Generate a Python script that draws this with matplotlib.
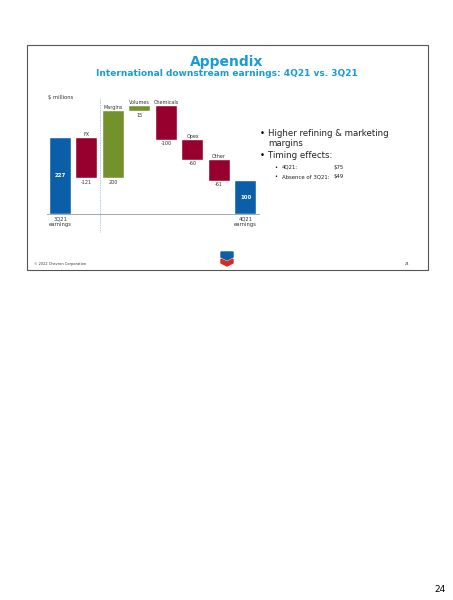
import matplotlib
matplotlib.use("Agg")
import matplotlib.pyplot as plt
from matplotlib.patches import Rectangle, Polygon

categories = ["3Q21\nearnings", "FX", "Margins", "Volumes", "Chemicals", "Opex", "Other", "4Q21\nearnings"]
values = [227, -121, 200, 15, -100, -60, -61, 100]
labels = ["227", "-121", "200", "15", "-100", "-60", "-61", "100"]

W, H = 453, 600
fig = plt.figure(figsize=(W/100, H/100), dpi=100)
def fx(x): return x / W
def fy(y): return 1 - y / H

# slide frame
fig.patches.append(Rectangle((fx(27), fy(270)), fx(401), fy(45) - fy(270),
                             transform=fig.transFigure, fill=False, ec="#555555", lw=0.8))
fig.text(fx(227), fy(62), "Appendix", color="#1a9bd7", fontsize=10, fontweight="bold", ha="center", va="center")
fig.text(fx(227), fy(74), "International downstream earnings: 4Q21 vs. 3Q21", color="#1a9bd7",
         fontsize=6.5, fontweight="bold", ha="center", va="center")
fig.text(fx(48), fy(97), "$ millions", fontsize=3.8, ha="left", va="center", color="#333333")

# chart
ax = fig.add_axes([fx(47), fy(214), fx(259) - fx(47), (340 * 0.335) / H])
ax.set_xlim(-0.5, 7.5)
ax.set_ylim(0, 340)
ax.axis("off")
blue, red, green = "#0a5fa8", "#97002e", "#73922c"
cum = 0
w = 0.78
for i, (c, v, l) in enumerate(zip(categories, values, labels)):
    if i == 0 or i == len(values) - 1:
        bottom, top, col = 0, v, blue
        cum = v
    else:
        bottom, top = (cum, cum + v) if v > 0 else (cum + v, cum)
        col = green if v > 0 else red
        cum += v
    ax.bar(i, top - bottom, bottom=bottom, width=w, color=col, ec="white", lw=0.3)
    if i == 0 or i == len(values) - 1:
        ax.text(i, top / 2, l, color="white", fontsize=4, fontweight="bold", ha="center", va="center")
        ax.text(i, -8, c, fontsize=3.8, ha="center", va="top", color="#333333", clip_on=False)
    else:
        ax.text(i, top + 4, c, fontsize=3.5, ha="center", va="bottom", color="#333333")
        ax.text(i, bottom - 4, l, fontsize=3.5, ha="center", va="top", color="#333333")
ax.plot([-0.5, 7.5], [0, 0], color="#999999", lw=0.6, clip_on=False)
ax.plot([1.5, 1.5], [-55, 345], color="#8ab4e0", lw=0.6, ls=(0, (1, 1)), clip_on=False)

# bullets
fs = 6.2
fig.text(fx(260), fy(133), "•", fontsize=fs, va="center")
fig.text(fx(268), fy(133), "Higher refining & marketing", fontsize=fs, va="center", color="#222222")
fig.text(fx(268), fy(144), "margins", fontsize=fs, va="center", color="#222222")
fig.text(fx(260), fy(156), "•", fontsize=fs, va="center")
fig.text(fx(268), fy(156), "Timing effects:", fontsize=fs, va="center", color="#222222")
for y, a, b in [(167, "4Q21:", "$75"), (177, "Absence of 3Q21:", "$49")]:
    fig.text(fx(274), fy(y), "•", fontsize=3.8, va="center")
    fig.text(fx(282), fy(y), a, fontsize=3.9, va="center", color="#222222")
    fig.text(fx(333), fy(y), b, fontsize=3.9, va="center", color="#222222")

# footer
fig.text(fx(34), fy(264), "© 2022 Chevron Corporation", fontsize=2.5, va="center", color="#333333")
fig.text(fx(405), fy(264), "24", fontsize=2.5, va="center", color="#333333")
# logo
lx, ly = 227, 259
fig.patches.append(Polygon([(fx(lx-6), fy(ly-7)), (fx(lx+6), fy(ly-7)), (fx(lx+6), fy(ly-2)), (fx(lx), fy(ly+1)), (fx(lx-6), fy(ly-2))],
                           transform=fig.transFigure, color="#0a5fa8"))
fig.patches.append(Polygon([(fx(lx-6), fy(ly)), (fx(lx), fy(ly+3)), (fx(lx+6), fy(ly)), (fx(lx+6), fy(ly+4)), (fx(lx), fy(ly+7)), (fx(lx-6), fy(ly+4))],
                           transform=fig.transFigure, color="#d52b1e"))

fig.text(fx(440), fy(590), "24", fontsize=6.5, ha="center", va="center")
fig.savefig("out.png", dpi=100)
